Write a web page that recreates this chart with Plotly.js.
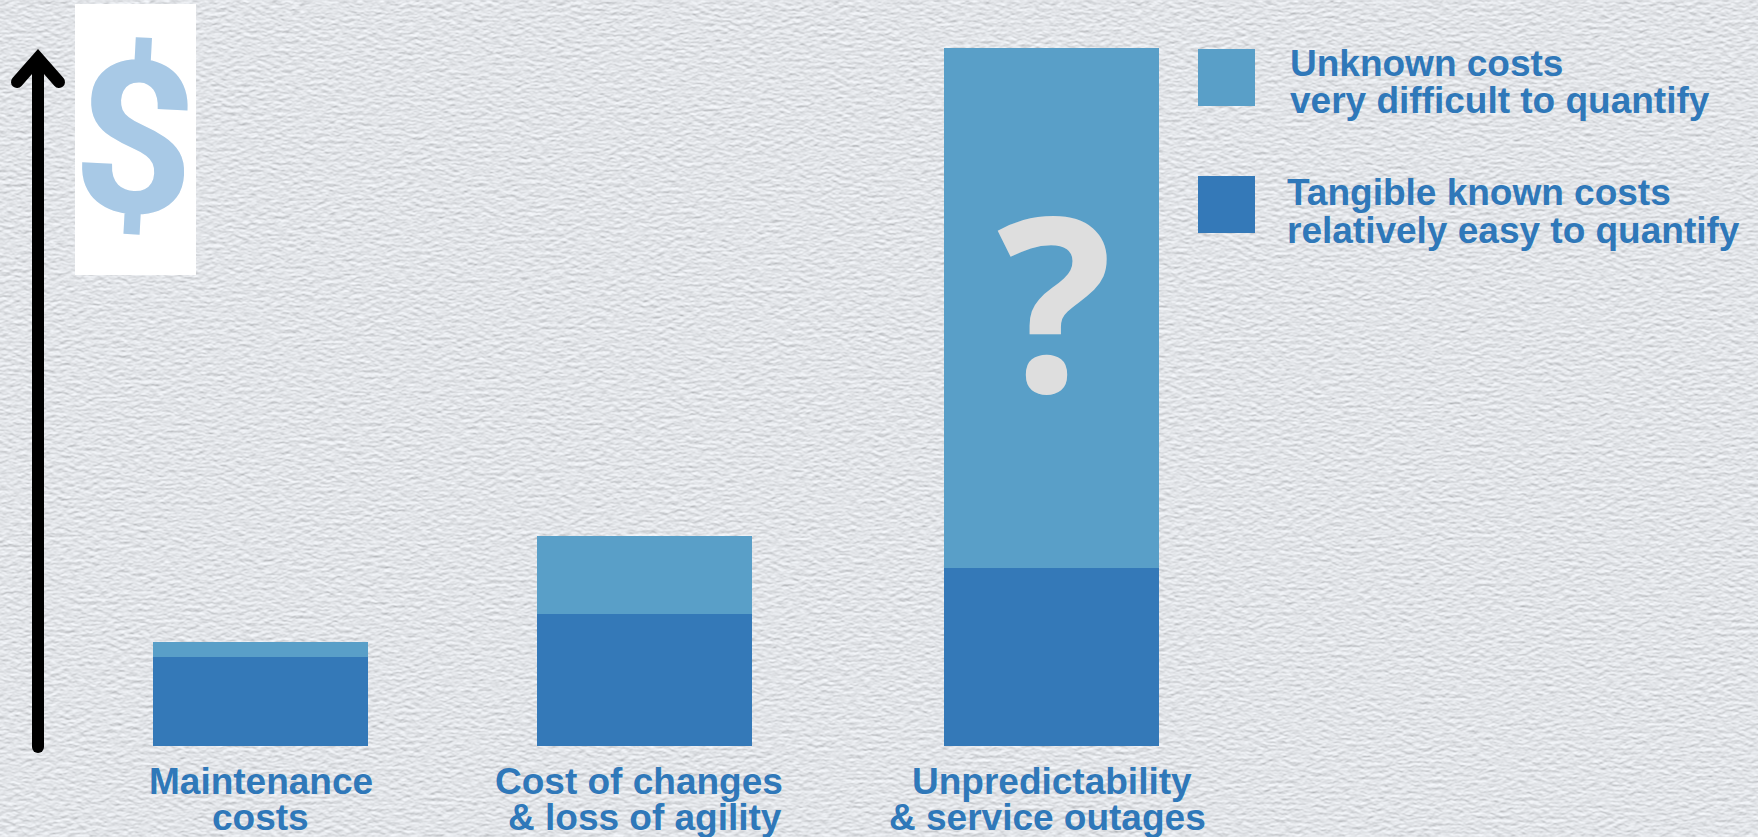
<!DOCTYPE html>
<html>
<head>
<meta charset="utf-8">
<script src="https://cdn.plot.ly/plotly-3.0.1.min.js"></script>
<style>
html,body{margin:0;padding:0;width:1758px;height:837px;overflow:hidden;background-color:#e3e5e8;}
#bg{position:absolute;left:0;top:0;}
#chart{position:absolute;left:0;top:0;width:1758px;height:837px;}
.shapelayer path{stroke-linecap:round;stroke-linejoin:miter;stroke-miterlimit:10;}
</style>
</head>
<body>
<svg id="bg" width="1758" height="837" xmlns="http://www.w3.org/2000/svg">
  <filter id="paper" x="0" y="0" width="100%" height="100%" color-interpolation-filters="sRGB">
    <feTurbulence type="fractalNoise" baseFrequency="0.14 0.28" numOctaves="3" seed="4" result="n"/>
    <feDiffuseLighting in="n" lighting-color="#ffffff" surfaceScale="0.65" diffuseConstant="1.0" result="l">
      <feDistantLight azimuth="90" elevation="62"/>
    </feDiffuseLighting>
    <feColorMatrix in="l" type="matrix" values="0.85 0 0 0 0.135  0 0.85 0 0 0.145  0 0 0.85 0 0.16  0 0 0 0 1"/>
  </filter>
  <rect width="1758" height="837" filter="url(#paper)"/>
</svg>
<div id="chart"></div>
<script>
// ---- data (arbitrary cost units) ----
const categories = ["Maintenance costs", "Cost of changes & loss of agility", "Unpredictability & service outages"];
const knownCosts = [8.9, 13.2, 17.8];
const unknownCosts = [1.5, 7.8, 52.0];
const knownName = "Tangible known costs relatively easy to quantify";
const unknownName = "Unknown costs very difficult to quantify";
const labelLines = [["Maintenance", "costs"], ["Cost of changes", "& loss of agility"], ["Unpredictability", "& service outages"]];
const unknownLegendLines = ["Unknown costs", "very difficult to quantify"];
const knownLegendLines = ["Tangible known costs", "relatively easy to quantify"];

// ---- layout ----
const W = 1758, H = 837, mT = 46, mB = 91;
const spacing = 395.5, firstCentre = 260.5, barPx = 215;
const barW = barPx / spacing;
const barOffsets = [-barW / 2, -barW / 2 - 11.5 / spacing, -barW / 2];
const px = v => v / W;
const py = v => 1 - (v - mT) / (H - mT - mB);
const textBlue = "#2f78b9", knownColor = "#3479b8", unknownColor = "#599fc8";

const barTrace = (name, vals, color) => ({
  type: "bar", name, x: categories, y: vals, width: barW, offset: barOffsets,
  marker: {color, line: {width: 0}}, hoverinfo: "skip"
});

const textAnn = (text, x, y, size, anchor) => ({
  text, x: px(x), y: py(y), xref: "paper", yref: "paper", xanchor: anchor, yanchor: "middle",
  showarrow: false, borderpad: 0,
  font: {family: "Liberation Sans, Arial, sans-serif", size, color: textBlue, weight: 700}
});

const lineCentres = [[260.5, 260.5], [639, 645], [1052, 1047]];
const lineY = [781, 817];
const annotations = [];
labelLines.forEach((lines, i) => lines.forEach((t, j) => {
  annotations.push(textAnn(t, lineCentres[i][j], lineY[j], 37, "center"));
}));
unknownLegendLines.forEach((t, j) => annotations.push(textAnn(t, 1289, [64, 101][j], 37, "left")));
knownLegendLines.forEach((t, j) => annotations.push(textAnn(t, 1286, [193, 231][j], 37, "left")));
annotations.push({text: "$", x: px(135), y: py(139), xref: "paper", yref: "paper", xanchor: "center", yanchor: "middle",
  showarrow: false, textangle: 3, font: {family: "Roboto, sans-serif", size: 212, color: "#a8c9e6", weight: 700}});
annotations.push({text: "?", x: px(1054), y: py(298), xref: "paper", yref: "paper", xanchor: "center", yanchor: "middle",
  showarrow: false, font: {family: "Open Sans, sans-serif", size: 242, color: "#dedede", weight: 700}});

const rectPx = (x0, y0, x1, y1, color) => ({type: "rect", xref: "paper", yref: "paper",
  x0: px(x0), x1: px(x1), y0: py(y0), y1: py(y1), fillcolor: color, line: {width: 0}, layer: "above"});
const pathPx = pts => ({type: "path", xref: "paper", yref: "paper",
  path: pts.map((p, i) => (i ? "L" : "M") + px(p[0]) + "," + py(p[1])).join(" "),
  line: {color: "#000000", width: 12}, layer: "above"});

const shapes = [
  rectPx(75, 4, 196, 275, "#ffffff"),
  rectPx(1198, 49, 1255, 106, unknownColor),
  rectPx(1198, 176, 1255, 233, knownColor),
  pathPx([[38, 747], [38, 60]]),
  pathPx([[17, 82], [38, 58], [59, 82]])
];

const layout = {
  width: W, height: H,
  margin: {l: 0, r: 0, t: mT, b: mB, pad: 0},
  paper_bgcolor: "rgba(0,0,0,0)", plot_bgcolor: "rgba(0,0,0,0)",
  barmode: "stack", showlegend: false,
  xaxis: {type: "category", categoryorder: "array", categoryarray: categories,
    range: [-firstCentre / spacing, (W - firstCentre) / spacing],
    showticklabels: false, showgrid: false, zeroline: false, showline: false, ticks: "", fixedrange: true},
  yaxis: {range: [0, 70], showticklabels: false, showgrid: false, zeroline: false, showline: false, ticks: "", fixedrange: true},
  shapes, annotations
};

Plotly.newPlot("chart", [
  barTrace(knownName, knownCosts, knownColor),
  barTrace(unknownName, unknownCosts, unknownColor)
], layout, {displayModeBar: false, staticPlot: true});
</script>
</body>
</html>
